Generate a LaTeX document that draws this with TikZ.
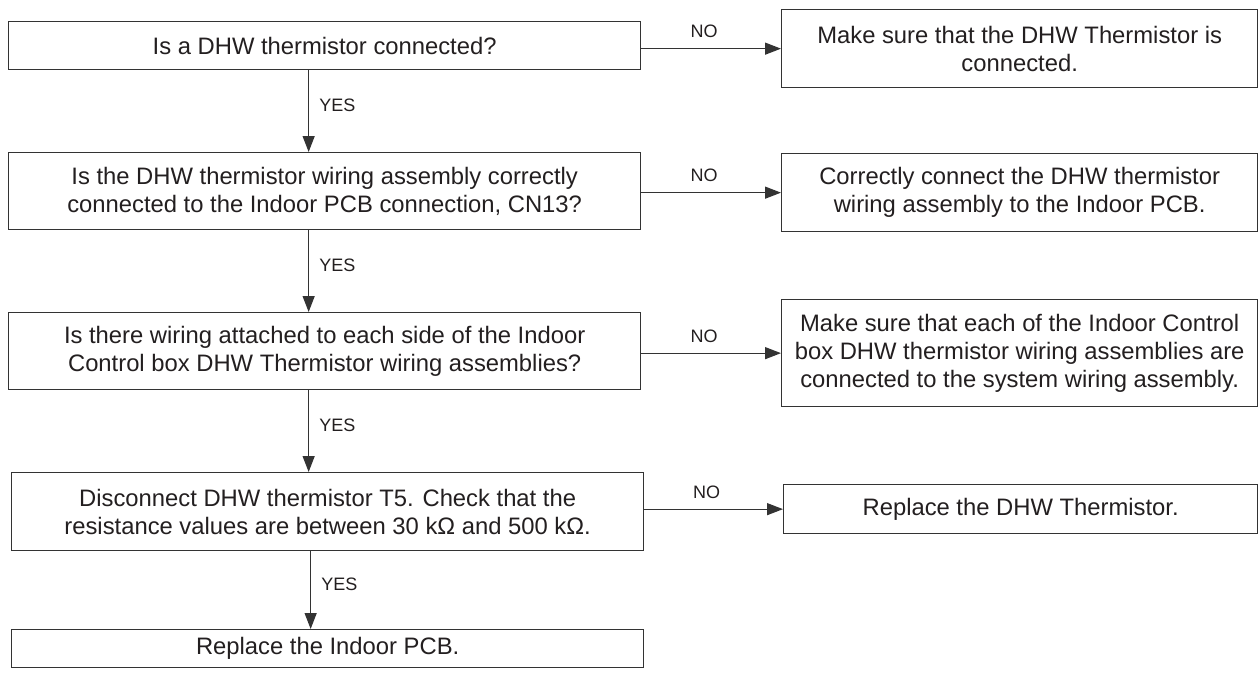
\documentclass[tikz,border=0pt]{standalone}
\usepackage{fontspec}
\setmainfont{Liberation Sans}
\usetikzlibrary{arrows.meta,calc}
\definecolor{linec}{HTML}{333333}
\definecolor{textc}{HTML}{231F20}
\begin{document}
\begin{tikzpicture}[x=1pt,y=-1pt,
  box/.style={draw=linec, line width=1.3pt, align=center, text=textc,
    font=\fontsize{23.8}{28}\selectfont, inner sep=0pt, anchor=north west},
  arr/.style={draw=linec, line width=1.3pt, -{Triangle[length=16pt,width=12pt]}},
  lab/.style={font=\fontsize{18}{20}\selectfont, text=textc, inner sep=0pt},
  nolab/.style={lab, above=10pt, pos=0.45},
  yeslab/.style={lab, right=10pt, pos=0.43}]
\useasboundingbox (0,0) rectangle (1258,672);
\fill[white] (0,0) rectangle (1258,672);

\node[box, minimum width=632pt, minimum height=48pt] (B1) at (8,21) {Is a DHW thermistor connected?};
\node[box, minimum width=476pt, minimum height=78pt] (R1) at (781,9) {Make sure that the DHW Thermistor is\\connected.};
\node[box, minimum width=632pt, minimum height=77pt] (B2) at (8,152) {Is the DHW thermistor wiring assembly correctly\\connected to the Indoor PCB connection, CN13?};
\node[box, minimum width=476pt, minimum height=78pt] (R2) at (781,153) {Correctly connect the DHW thermistor\\wiring assembly to the Indoor PCB.};
\node[box, minimum width=632pt, minimum height=77pt] (B3) at (8,312) {Is there wiring attached to each side of the Indoor\\Control box DHW Thermistor wiring assemblies?};
\node[box, minimum width=476pt, minimum height=107pt] (R3) at (781,299) {Make sure that each of the Indoor Control\\box DHW thermistor wiring assemblies are\\connected to the system wiring assembly.};
\node[box, minimum width=632pt, minimum height=78pt] (B4) at (11,472) {Disconnect DHW thermistor T5. Check that the\\resistance values are between 30 kΩ and 500 kΩ.};
\node[box, minimum width=474pt, minimum height=49pt] (R4) at (783,484) {Replace the DHW Thermistor.};
\node[box, minimum width=632pt, minimum height=38pt] (B5) at (11,629) {Replace the Indoor PCB.};

\draw[arr] (R1.west -| B1.east) -- node[nolab] {NO} (R1.west);
\draw[arr] (R2.west -| B2.east) -- node[nolab] {NO} (R2.west);
\draw[arr] (R3.west -| B3.east) -- node[nolab] {NO} (R3.west);
\draw[arr] (R4.west -| B4.east) -- node[nolab] {NO} (R4.west);

\draw[arr] ([xshift=-16pt]B1.south) -- node[yeslab] {YES} ([xshift=-16pt]B1.south |- B2.north);
\draw[arr] ([xshift=-16pt]B2.south) -- node[yeslab] {YES} ([xshift=-16pt]B2.south |- B3.north);
\draw[arr] ([xshift=-16pt]B3.south) -- node[yeslab] {YES} ([xshift=-16pt]B3.south |- B4.north);
\draw[arr] ([xshift=-17pt]B4.south) -- node[yeslab] {YES} ([xshift=-17pt]B4.south |- B5.north);
\end{tikzpicture}
\end{document}
